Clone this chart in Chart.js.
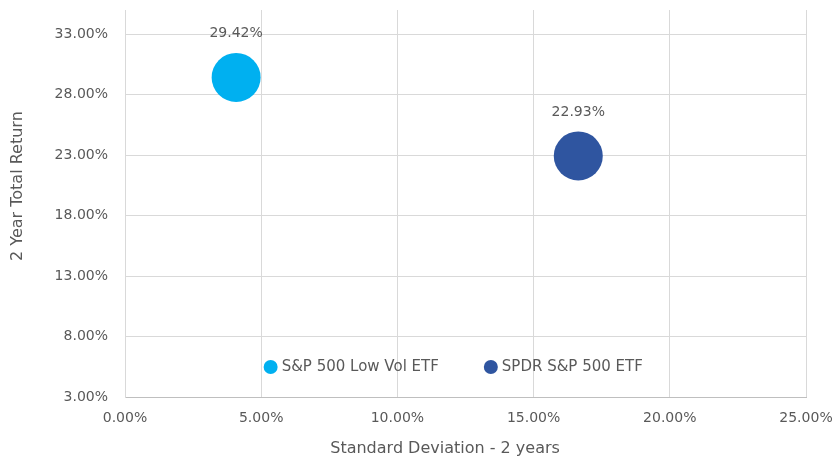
<!doctype html>
<html>
<head>
<meta charset="utf-8">
<script src="https://cdn.jsdelivr.net/npm/chart.js@4.4.0/dist/chart.umd.min.js"></script>
<style>
  html, body { margin: 0; padding: 0; background: #fff; }
</style>
</head>
<body>
<canvas id="chart" width="836" height="459"></canvas>
<script>
const seriesNames = ['S&P 500 Low Vol ETF', 'SPDR S&P 500 ETF']
const stdDev = [4.08, 16.64]
const totalReturn = [29.42, 22.93]
const bubbleSize = [24.5, 24.5]
const colors = ['#00B0F0', '#2F55A0']
const xTicks = [0, 5, 10, 15, 20, 25]
const yTicks = [3, 8, 13, 18, 23, 28, 33]
const xTitle = 'Standard Deviation - 2 years'
const yTitle = '2 Year Total Return'

const FONT = '"DejaVu Sans", sans-serif'
const SIZE = 14
const GREY = '#595959'
const pct = v => Number(v).toFixed(2) + '%'

// value labels above each bubble
const valueLabels = {
  id: 'valueLabels',
  afterDatasetsDraw(chart) {
    const ctx = chart.ctx
    ctx.save()
    ctx.font = SIZE + 'px ' + FONT
    ctx.fillStyle = GREY
    ctx.textAlign = 'center'
    ctx.textBaseline = 'middle'
    chart.data.datasets.forEach((ds, i) => {
      chart.getDatasetMeta(i).data.forEach((pt, j) => {
        ctx.fillText(pct(ds.data[j].y), pt.x, pt.y - 44)
      })
    })
    ctx.restore()
  }
}

// axis titles, placed like the excel original (a bit off-centre)
const axisTitles = {
  id: 'axisTitles',
  afterDraw(chart) {
    const ctx = chart.ctx
    const a = chart.chartArea
    ctx.save()
    ctx.font = '16px ' + FONT
    ctx.fillStyle = GREY
    ctx.textAlign = 'center'
    ctx.textBaseline = 'middle'
    ctx.fillText(xTitle, a.left + a.width * 0.47, chart.height - 10)
    ctx.translate(18, a.top + a.height * 0.455)
    ctx.rotate(-Math.PI / 2)
    ctx.fillText(yTitle, 0, 0)
    ctx.restore()
  }
}

// legend drawn inside the plot area, near the bottom
const innerLegend = {
  id: 'innerLegend',
  afterDraw(chart) {
    const ctx = chart.ctx
    const area = chart.chartArea
    ctx.save()
    ctx.font = '15px ' + FONT
    ctx.textBaseline = 'middle'
    const r = 7, gap = 4, between = 45
    const items = chart.data.datasets.map(ds => ({
      label: ds.label, color: ds.backgroundColor, w: ctx.measureText(ds.label).width
    }))
    const total = items.reduce((s, it) => s + 2 * r + gap + it.w, 0) + between * (items.length - 1)
    let x = area.left + area.width * 0.482 - total / 2
    const y = area.bottom - 30
    items.forEach(it => {
      ctx.fillStyle = it.color
      ctx.beginPath()
      ctx.arc(x + r, y, r, 0, Math.PI * 2)
      ctx.fill()
      ctx.fillStyle = GREY
      ctx.textAlign = 'left'
      ctx.fillText(it.label, x + 2 * r + gap, y)
      x += 2 * r + gap + it.w + between
    })
    ctx.restore()
  }
}

const datasets = seriesNames.map((name, i) => ({
  label: name,
  data: [{ x: stdDev[i], y: totalReturn[i], r: bubbleSize[i] }],
  backgroundColor: colors[i],
  borderColor: colors[i],
  borderWidth: 0,
  hoverRadius: 0
}))

const noPad = s => { s.paddingTop = 0; s.paddingBottom = 0; s.paddingLeft = 0; s.paddingRight = 0 }

new Chart(document.getElementById('chart'), {
  type: 'bubble',
  data: { datasets },
  plugins: [valueLabels, innerLegend, axisTitles],
  options: {
    responsive: false,
    animation: false,
    layout: { autoPadding: false, padding: { top: 10, right: 30, left: 0, bottom: 0 } },
    plugins: {
      legend: { display: false },
      tooltip: { enabled: false }
    },
    scales: {
      x: {
        type: 'linear',
        min: 0,
        max: 25,
        afterBuildTicks: s => { s.ticks = xTicks.map(v => ({ value: v })) },
        afterFit: s => { s.height = 62; noPad(s) },
        grid: { color: '#d9d9d9', drawTicks: false },
        border: { color: '#bfbfbf' },
        ticks: { color: GREY, font: { family: FONT, size: SIZE }, padding: 13, callback: v => pct(v) }
      },
      y: {
        type: 'linear',
        min: 3,
        max: 35,
        afterBuildTicks: s => { s.ticks = yTicks.map(v => ({ value: v })) },
        afterFit: s => { s.width = 125; noPad(s) },
        grid: { color: '#d9d9d9', drawTicks: false },
        border: { color: '#d9d9d9' },
        ticks: { color: GREY, font: { family: FONT, size: SIZE }, padding: 17, callback: v => pct(v) }
      }
    }
  }
})
</script>
</body>
</html>
